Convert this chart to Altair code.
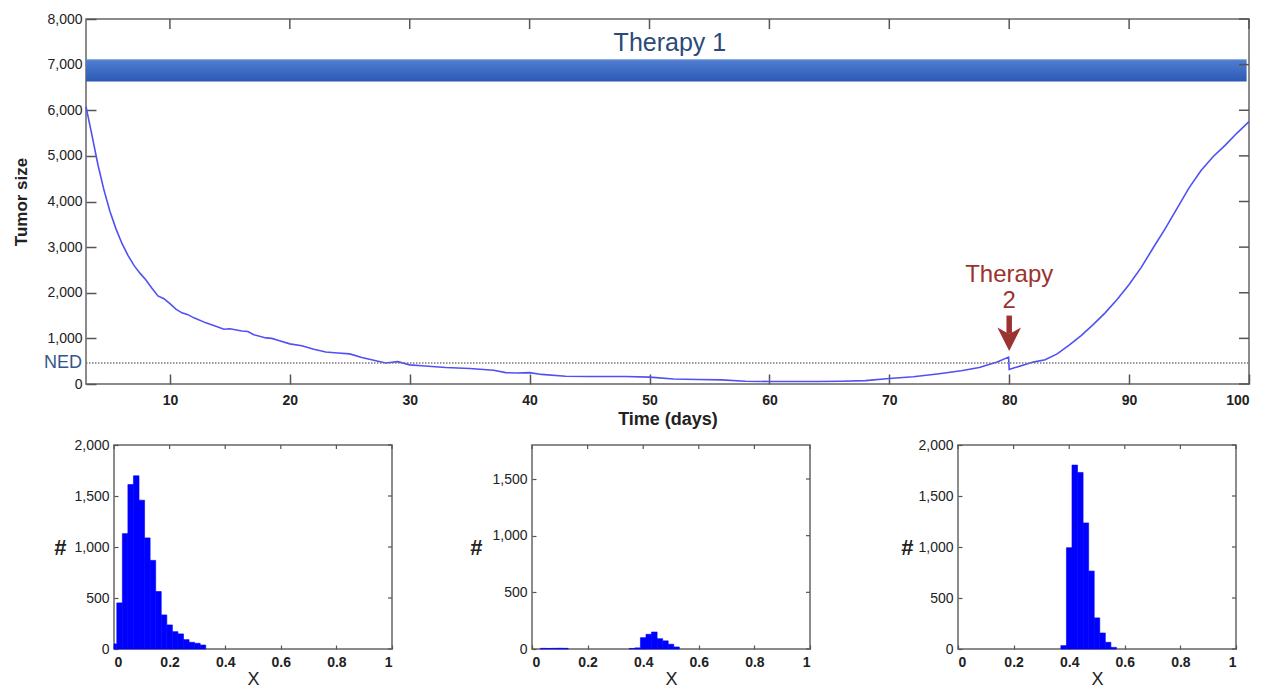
import altair as alt
import pandas as pd

# ---------------- data: main time course ----------------
days = [3.0, 3.5, 4.0, 4.5, 5.0, 5.5, 6.0, 6.5, 7.0, 7.5, 8.0, 8.5, 9.0, 9.5,
        10.0, 10.5, 11.0, 11.5, 12.0, 13.0, 14.0, 14.5, 15.0, 16.0, 16.5, 17.0,
        18.0, 18.5, 19.0, 20.0, 21.0, 22.0, 23.0, 24.0, 25.0, 26.0, 27.0, 28.0,
        29.0, 30.0, 31.0, 33.0, 35.0, 37.0, 38.0, 39.0, 40.0, 41.0, 43.0, 45.0,
        48.0, 50.0, 52.0, 54.0, 56.0, 58.0, 60.0, 62.0, 64.0, 66.0, 68.0, 70.0,
        72.0, 74.0, 76.0, 77.5, 79.0, 79.95, 80.0, 80.5, 82.0, 83.0, 84.0, 85.0,
        86.0, 87.0, 88.0, 89.0, 90.0, 91.0, 92.0, 93.0, 94.0, 95.0, 96.0, 97.0,
        98.0, 99.0, 100.0]
tumor = [6080, 5450, 4800, 4250, 3780, 3400, 3080, 2820, 2600, 2430, 2280, 2100, 1930, 1870,
         1760, 1640, 1560, 1520, 1450, 1340, 1250, 1200, 1210, 1160, 1150, 1080,
         1010, 1000, 960, 880, 840, 760, 700, 680, 660, 580, 520, 460,
         490, 420, 400, 360, 340, 300, 250, 240, 250, 210, 170, 165,
         165, 150, 110, 100, 90, 60, 55, 55, 55, 60, 75, 120,
         160, 220, 290, 360, 480, 590, 320, 360, 480, 530, 660, 850,
         1060, 1300, 1560, 1850, 2180, 2550, 2980, 3400, 3850, 4300, 4680, 4980,
         5230, 5500, 5750]

x_ticks = [10, 20, 30, 40, 50, 60, 70, 80, 90, 100]
y_ticks = [0, 1000, 2000, 3000, 4000, 5000, 6000, 7000, 8000]
x_domain = [3, 100]
y_domain = [0, 8000]

ned_level = [460]
ned_label = ["NED"]

therapy1_start = [3.0]
therapy1_end = [99.8]
therapy1_low = [6630]
therapy1_high = [7120]
therapy1_label = ["Therapy 1"]
therapy1_label_x = [51.7]
therapy1_label_y = [7300]

therapy2_day = [80]
therapy2_lines = ["Therapy", "2"]
therapy2_line_y = [2230, 1660]
therapy2_arrow_top = [1500]
therapy2_arrow_bottom = [1100]
therapy2_head = [980]

# ---------------- data: histograms ----------------
h1_centers = [0.00, 0.02, 0.04, 0.06, 0.08, 0.10, 0.12, 0.14, 0.16, 0.18, 0.20,
              0.22, 0.24, 0.26, 0.28, 0.30, 0.32]
h1_counts = [50, 452, 1131, 1613, 1698, 1459, 1089, 869, 564, 334, 236,
             170, 148, 92, 66, 56, 39]

h2_centers = [0.04, 0.06, 0.08, 0.10, 0.12, 0.36, 0.38, 0.40, 0.42, 0.44, 0.46,
              0.48, 0.50, 0.52]
h2_counts = [6, 5, 6, 7, 6, 5, 10, 100, 130, 150, 91, 72, 42, 18]

h3_centers = [0.38, 0.40, 0.42, 0.44, 0.46, 0.48, 0.50, 0.52, 0.54, 0.56]
h3_counts = [33, 993, 1803, 1731, 1236, 764, 305, 157, 66, 16]

hist_x_ticks = [0, 0.2, 0.4, 0.6, 0.8, 1]
hist_y_ticks_a = [0, 500, 1000, 1500, 2000]
hist_y_ticks_b = [0, 500, 1000, 1500]
bin_half = 0.01

# ---------------- styling ----------------
FONT = "Liberation Sans"
AX = "#555555"
TXT = "#222222"
W, H = 1163, 365
HW, HH = 278, 204

xs = alt.Scale(domain=x_domain, nice=False, zero=False)
ys = alt.Scale(domain=y_domain, nice=False)

curve_df = pd.DataFrame({"day": days, "size": tumor})

x_axis = alt.Axis(values=x_ticks, format="d", offset=-10, tickSize=10, tickWidth=1.5,
                  tickColor=AX, domain=False, grid=False, labelFontSize=14,
                  labelFontWeight="bold", labelColor=TXT, labelPadding=9,
                  title="Time (days)", titleFontSize=18, titleFontWeight="bold",
                  titleColor=TXT, titlePadding=3)
y_axis = alt.Axis(values=y_ticks, format=",d", offset=-10, tickSize=10, tickWidth=1.5,
                  tickColor=AX, domain=False, grid=False, labelFontSize=14,
                  labelColor=TXT, labelPadding=4, title="Tumor size", titleFontSize=17,
                  titleFontWeight="bold", titleColor=TXT, titlePadding=16)


def X(field):
    return alt.X(field, scale=xs, axis=x_axis)


def Y(field):
    return alt.Y(field, scale=ys, axis=y_axis)


line = alt.Chart(curve_df).mark_line(color="#5050f5", strokeWidth=1.6).encode(
    x=X("day:Q"), y=Y("size:Q"), order="day:Q",
)

bar_df = pd.DataFrame({"s": therapy1_start, "e": therapy1_end,
                       "lo": therapy1_low, "hi": therapy1_high})
gradient = {"gradient": "linear", "x1": 0, "x2": 0, "y1": 0, "y2": 1,
            "stops": [{"offset": 0, "color": "#6a95dc"},
                      {"offset": 0.08, "color": "#4f7ccf"},
                      {"offset": 0.6, "color": "#3b69c2"},
                      {"offset": 1, "color": "#2c58b0"}]}
bar = alt.Chart(bar_df).mark_rect(color=gradient).encode(
    x=X("s:Q"), x2="e:Q", y=Y("lo:Q"), y2="hi:Q",
)

t1_df = pd.DataFrame({"x": therapy1_label_x, "y": therapy1_label_y, "t": therapy1_label})
t1 = alt.Chart(t1_df).mark_text(font=FONT, fontSize=25, color="#2b4a78",
                                align="center", baseline="alphabetic").encode(
    x=X("x:Q"), y=Y("y:Q"), text="t:N")

ned_df = pd.DataFrame({"s": [x_domain[0]], "e": [x_domain[1]], "v": ned_level, "t": ned_label})
ned = alt.Chart(ned_df).mark_rule(color="#777777", strokeWidth=1.5, strokeDash=[1.5, 1.5]).encode(
    x=X("s:Q"), x2="e:Q", y=Y("v:Q"))
ned_text = alt.Chart(ned_df).mark_text(font=FONT, fontSize=18, color="#34578a",
                                       align="right", baseline="middle", dx=-4).encode(
    x=X("s:Q"), y=Y("v:Q"), text="t:N")

t2_df = pd.DataFrame({"x": therapy2_day * 2, "y": therapy2_line_y, "t": therapy2_lines})
t2 = alt.Chart(t2_df).mark_text(font=FONT, fontSize=24, color="#9b3330",
                                align="center", baseline="alphabetic").encode(
    x=X("x:Q"), y=Y("y:Q"), text="t:N")

arrow_df = pd.DataFrame({"x": therapy2_day, "top": therapy2_arrow_top,
                         "bot": therapy2_arrow_bottom, "head": therapy2_head})
shaft = alt.Chart(arrow_df).mark_rule(color="#9b3330", strokeWidth=5.5).encode(
    x=X("x:Q"), y=Y("top:Q"), y2="bot:Q")
head = alt.Chart(arrow_df).mark_point(shape="M0,1 L-1,-1 L0,-0.45 L1,-1 Z", size=560,
                                      filled=True, color="#9b3330", opacity=1).encode(
    x=X("x:Q"), y=Y("head:Q"))

top_ticks = alt.Chart(pd.DataFrame({"t": x_ticks})).mark_rule(color=AX, strokeWidth=1.5).encode(
    x=X("t:Q"), y=alt.value(0), y2=alt.value(10))
right_ticks = alt.Chart(pd.DataFrame({"t": y_ticks})).mark_rule(color=AX, strokeWidth=1.5).encode(
    y=Y("t:Q"), x=alt.value(W - 10), x2=alt.value(W))

top = alt.layer(line, bar, ned, ned_text, t1, t2, shaft, head, top_ticks, right_ticks).properties(
    width=W, height=H)


def histogram(centers, counts, ymax, yticks, tpad):
    df = pd.DataFrame({"c": centers, "n": counts})
    df["lo"] = (df["c"] - bin_half).clip(lower=0)
    df["hi"] = df["c"] + bin_half
    hx = alt.Scale(domain=[0, 1], nice=False)
    hy = alt.Scale(domain=[0, ymax], nice=False)
    hxa = alt.Axis(
        values=hist_x_ticks, format="~g", offset=-4, tickSize=4, tickWidth=1.2,
        tickColor=AX, domain=False, grid=False, labelFontSize=14,
        labelFontWeight="bold", labelColor=TXT, labelPadding=6, title="X",
        titleFontSize=18, titleFontWeight="normal", titleColor=TXT, titlePadding=1)
    hya = alt.Axis(
        values=yticks, format=",d", offset=-4, tickSize=4, tickWidth=1.2,
        tickColor=AX, domain=False, grid=False, labelFontSize=14,
        labelColor=TXT, labelPadding=5, title="#", titleFontSize=22,
        titleFontWeight="bold", titleColor=TXT, titleAngle=0, titleAlign="right",
        titleBaseline="middle", titlePadding=tpad)
    bars = alt.Chart(df).mark_rect(color="#0000ff", stroke="#0000ff", strokeWidth=0.6).encode(
        x=alt.X("lo:Q", scale=hx, axis=hxa),
        x2="hi:Q",
        y=alt.Y("n:Q", scale=hy, axis=hya),
        y2=alt.datum(0),
    )
    tt = alt.Chart(pd.DataFrame({"t": hist_x_ticks})).mark_rule(color=AX, strokeWidth=1.2).encode(
        x=alt.X("t:Q", scale=hx, axis=hxa), y=alt.value(0), y2=alt.value(4))
    rt = alt.Chart(pd.DataFrame({"t": yticks})).mark_rule(color=AX, strokeWidth=1.2).encode(
        y=alt.Y("t:Q", scale=hy, axis=hya), x=alt.value(HW - 4), x2=alt.value(HW))
    return alt.layer(bars, tt, rt).properties(width=HW, height=HH)


def spacer(w, h):
    return alt.Chart(pd.DataFrame({"s": [0]})).mark_rule(opacity=0).encode(
        x=alt.value(0), y=alt.value(0), y2=alt.value(1)).properties(
        width=w, height=h, view=alt.ViewBackground(stroke="transparent"))


p1 = histogram(h1_centers, h1_counts, 2000, hist_y_ticks_a, 8)
p2 = histogram(h2_centers, h2_counts, 1800, hist_y_ticks_b, 10)
p3 = histogram(h3_centers, h3_counts, 2000, hist_y_ticks_a, 5)

top_row = alt.hconcat(spacer(1, H), top, spacing=0)
bottom = alt.hconcat(
    spacer(41, HH),
    alt.hconcat(p1, alt.hconcat(p2, p3, spacing=87), spacing=74),
    spacing=0,
)

chart = alt.vconcat(top_row, bottom, spacing=8).properties(
    padding={"left": 1, "top": 3, "right": 0, "bottom": 0}
).configure(font=FONT).configure_view(stroke="#666666", strokeWidth=1.5)

chart.save("out.html", embed_options={"renderer": "svg", "actions": False})
